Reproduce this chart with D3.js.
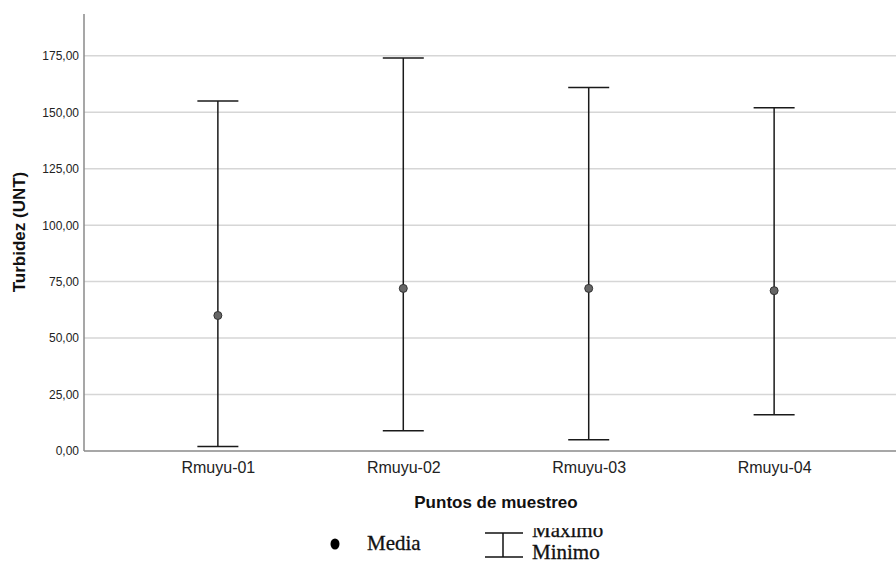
<!DOCTYPE html>
<html>
<head>
<meta charset="utf-8">
<script src="https://cdn.jsdelivr.net/npm/d3@7"></script>
<style>
  html, body { margin: 0; padding: 0; background: #fff; }
  svg { display: block; }
</style>
</head>
<body>
<svg id="chart" width="896" height="563"></svg>
<script>
// Sampling points and turbidity summary (UNT)
const categories = ["Rmuyu-01", "Rmuyu-02", "Rmuyu-03", "Rmuyu-04"];
const meanValues = [60, 72, 72, 71];
const maxValues = [155, 174, 161, 152];
const minValues = [2, 9, 5, 16];
const yTickValues = [0, 25, 50, 75, 100, 125, 150, 175];

const svg = d3.select("#chart");
const plotLeft = 84, plotRight = 908, plotTop = 14, plotBottom = 451;

const x = d3.scalePoint().domain(categories).range([plotLeft, plotRight]).padding(0.722);
const y = d3.scaleLinear().domain([0, 193.5]).range([plotBottom, plotTop]);
const fmt = v => d3.format(".2f")(v).replace(".", ",");

// Horizontal grid lines
svg.append("g").selectAll("line").data(yTickValues.filter(d => d > 0)).join("line")
  .attr("x1", plotLeft).attr("x2", 896)
  .attr("y1", d => y(d)).attr("y2", d => y(d))
  .attr("stroke", "#d6d6d6").attr("stroke-width", 1.5);

// Y axis
const yAxis = svg.append("g").attr("transform", `translate(${plotLeft},0)`)
  .call(d3.axisLeft(y).tickValues(yTickValues).tickFormat(fmt).tickSize(0).tickPadding(5));
yAxis.select(".domain").remove();
yAxis.selectAll("text").attr("font-family", "Liberation Sans, Arial, sans-serif")
  .attr("font-size", 12).attr("fill", "#222");
svg.append("line").attr("x1", plotLeft).attr("x2", plotLeft).attr("y1", plotTop).attr("y2", plotBottom)
  .attr("stroke", "#8a8a8a").attr("stroke-width", 1.5);

// X axis
const xAxis = svg.append("g").attr("transform", `translate(0,${plotBottom})`)
  .call(d3.axisBottom(x).tickSize(0).tickPadding(11));
xAxis.select(".domain").remove();
xAxis.selectAll("text").attr("font-family", "Liberation Sans, Arial, sans-serif")
  .attr("font-size", 16).attr("fill", "#222");
svg.append("line").attr("x1", plotLeft).attr("x2", 896).attr("y1", plotBottom).attr("y2", plotBottom)
  .attr("stroke", "#8a8a8a").attr("stroke-width", 1.5);

// Axis titles
svg.append("text").attr("x", 496).attr("y", 508).attr("text-anchor", "middle")
  .attr("font-family", "Liberation Sans, Arial, sans-serif").attr("font-weight", "bold")
  .attr("font-size", 17).attr("fill", "#111").text("Puntos de muestreo");
svg.append("text").attr("transform", "translate(25,232) rotate(-90)").attr("text-anchor", "middle")
  .attr("font-family", "Liberation Sans, Arial, sans-serif").attr("font-weight", "bold")
  .attr("font-size", 17).attr("fill", "#111").text("Turbidez (UNT)");

// Min–max bars with caps and mean points
const rows = categories.map((c, i) => ({ c, mean: meanValues[i], max: maxValues[i], min: minValues[i] }));
const capHalf = 20.5;
const g = svg.append("g");
g.selectAll(".stem").data(rows).join("line")
  .attr("x1", d => x(d.c)).attr("x2", d => x(d.c))
  .attr("y1", d => y(d.max)).attr("y2", d => y(d.min))
  .attr("stroke", "#1a1a1a").attr("stroke-width", 1.5);
g.selectAll(".capTop").data(rows).join("line")
  .attr("x1", d => x(d.c) - capHalf).attr("x2", d => x(d.c) + capHalf)
  .attr("y1", d => y(d.max)).attr("y2", d => y(d.max))
  .attr("stroke", "#1a1a1a").attr("stroke-width", 1.5);
g.selectAll(".capBot").data(rows).join("line")
  .attr("x1", d => x(d.c) - capHalf).attr("x2", d => x(d.c) + capHalf)
  .attr("y1", d => y(d.min)).attr("y2", d => y(d.min))
  .attr("stroke", "#1a1a1a").attr("stroke-width", 1.5);
g.selectAll("circle").data(rows).join("circle")
  .attr("cx", d => x(d.c)).attr("cy", d => y(d.mean)).attr("r", 4)
  .attr("fill", "#666").attr("stroke", "#333").attr("stroke-width", 1);

// Legend
const serif = "Liberation Serif, Times New Roman, serif";
svg.append("ellipse").attr("cx", 335).attr("cy", 544).attr("rx", 4.5).attr("ry", 5.5).attr("fill", "#000");
svg.append("text").attr("x", 367).attr("y", 550).attr("font-family", serif)
  .attr("font-size", 21).attr("fill", "#111").attr("stroke", "#111").attr("stroke-width", 0.3)
  .text("Media");
const lg = svg.append("g").attr("stroke", "#111").attr("stroke-width", 1.5);
lg.append("line").attr("x1", 485).attr("x2", 523).attr("y1", 533).attr("y2", 533);
lg.append("line").attr("x1", 485).attr("x2", 523).attr("y1", 557).attr("y2", 557);
lg.append("line").attr("x1", 503).attr("x2", 503).attr("y1", 533).attr("y2", 557);
svg.append("clipPath").attr("id", "legclip").append("rect")
  .attr("x", 520).attr("y", 528).attr("width", 200).attr("height", 40);
const lt = svg.append("g").attr("clip-path", "url(#legclip)")
  .attr("font-family", serif).attr("font-size", 21)
  .attr("fill", "#111").attr("stroke", "#111").attr("stroke-width", 0.3);
lt.append("text").attr("x", 532).attr("y", 537).text("Maximo");
lt.append("text").attr("x", 532).attr("y", 559).text("Minimo");
</script>
</body>
</html>
